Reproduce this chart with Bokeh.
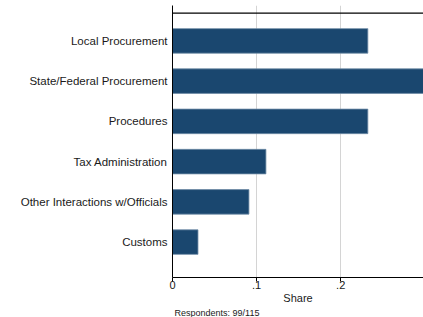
from bokeh.plotting import figure
from bokeh.models import FixedTicker, Range1d, Title, FactorRange, Span
from bokeh.embed import file_html
from bokeh.resources import INLINE

categories = ["Local Procurement", "State/Federal Procurement", "Procedures",
              "Tax Administration", "Other Interactions w/Officials", "Customs"]
shares = [0.2323, 0.3030, 0.2323, 0.1111, 0.0909, 0.0303]
x_ticks = [0, 0.1, 0.2, 0.3]
x_tick_labels = ["0", ".1", ".2", ".3"]
note = "Respondents: 99/115"

FONT = "Liberation Sans"
NAVY = "#1a476f"
PAD = 0.19

y_factors = list(reversed(categories))
p = figure(width=423, height=317, output_backend="svg", toolbar_location=None,
           y_range=FactorRange(factors=y_factors, range_padding=2 * PAD,
                               range_padding_units="absolute"),
           x_range=Range1d(0, 0.2985),
           min_border_left=172, min_border_right=0, min_border_top=5,
           min_border_bottom=40)
p.outline_line_color = None
p.background_fill_color = "white"
p.border_fill_color = "white"

p.hbar(y=categories, right=shares, left=0, height=0.61,
       fill_color=NAVY, line_color="#6d8aa4", line_width=0.8)

# x axis
xa = p.xaxis[0]
xa.ticker = FixedTicker(ticks=x_ticks)
xa.major_label_overrides = {t: l for t, l in zip(x_ticks, x_tick_labels)}
xa.axis_label = "Share"
xa.axis_label_text_font = FONT
xa.axis_label_text_font_size = "11px"
xa.axis_label_text_font_style = "normal"
xa.axis_label_text_color = "#1a1a1a"
xa.axis_label_standoff = 0
xa.major_label_text_font = FONT
xa.major_label_text_font_size = "11px"
xa.major_label_text_color = "#1a1a1a"
xa.major_label_standoff = -1
xa.major_tick_out = 4
xa.major_tick_in = 0
xa.major_tick_line_color = "black"
xa.minor_tick_line_color = None
xa.axis_line_color = "black"

# y axis
ya = p.yaxis[0]
ya.major_tick_line_color = None
ya.major_tick_out = 0
ya.major_tick_in = 0
ya.minor_tick_line_color = None
ya.major_label_text_font = FONT
ya.major_label_text_font_size = "11.5px"
ya.major_label_text_color = "#1a1a1a"
ya.major_label_standoff = 5
ya.axis_line_color = "black"

# top border line of the plot region
p.add_layout(Span(location=len(categories) + PAD, dimension="width",
                  line_color="black", line_width=1.2))

p.xgrid.grid_line_color = "#d4d4d4"
p.xgrid.ticker = FixedTicker(ticks=x_ticks[1:3])
p.ygrid.grid_line_color = None

p.add_layout(Title(text=note, text_font=FONT, text_font_size="9px",
                   text_font_style="normal", text_color="#1a1a1a",
                   align="left", offset=2, standoff=-1), "below")

open("out.html", "w").write(file_html(p, INLINE))
